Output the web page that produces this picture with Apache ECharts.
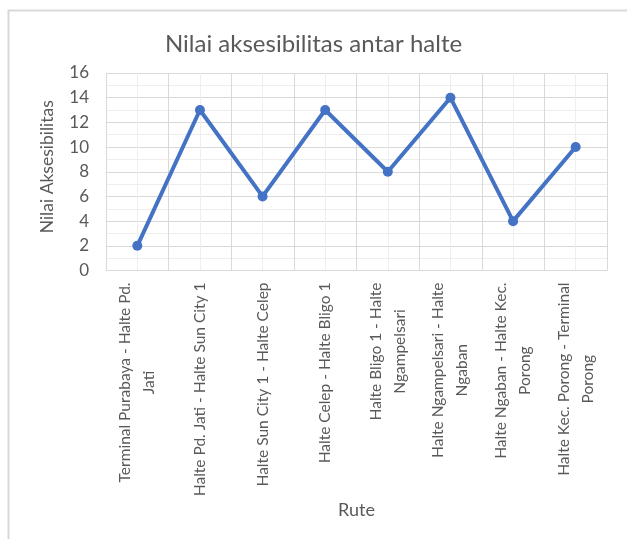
<!DOCTYPE html>
<html>
<head>
<meta charset="utf-8">
<script src="https://cdn.jsdelivr.net/npm/echarts@6/dist/echarts.min.js"></script>
<style>html,body{margin:0;padding:0;background:#fff}#c{width:627px;height:539px}</style>
</head>
<body>
<div id="c"></div>
<script>
const titleText = 'Nilai aksesibilitas antar halte';
const yAxisName = 'Nilai Aksesibilitas';
const xAxisName = 'Rute';
const categories = [
  'Terminal Purabaya - Halte Pd.\nJati',
  'Halte Pd. Jati - Halte Sun City 1',
  'Halte Sun City 1 - Halte Celep',
  'Halte Celep - Halte Bligo 1',
  'Halte Bligo 1 - Halte\nNgampelsari',
  'Halte Ngampelsari - Halte\nNgaban',
  'Halte Ngaban - Halte Kec.\nPorong',
  'Halte Kec. Porong - Terminal\nPorong'
];
const values = [2, 13, 6, 13, 8, 14, 4, 10];

const FONT = 'Lato';
const GRAY = '#595959';
const chart = echarts.init(document.getElementById('c'));
chart.setOption({
  animation: false,
  backgroundColor: '#fff',
  graphic: [{
    type: 'rect', left: 6, top: 8, z: -1,
    shape: { width: 700, height: 600 },
    style: { fill: 'none', stroke: '#d9d9d9', lineWidth: 2 }
  }],
  title: {
    text: titleText, left: 'center', top: 27,
    textStyle: { fontFamily: FONT, fontSize: 24, fontWeight: 'normal', color: GRAY }
  },
  grid: { left: 106, right: 20, top: 73, bottom: 268.5 },
  xAxis: [{
    type: 'category', data: categories, boundaryGap: true,
    name: xAxisName, nameLocation: 'middle', nameGap: 231,
    nameTextStyle: { fontFamily: FONT, fontSize: 18, color: GRAY },
    axisLine: { show: true, lineStyle: { color: '#d9d9d9', width: 1 } },
    axisTick: { show: false },
    splitLine: { show: false },
    axisLabel: {
      interval: 0, rotate: 90, margin: 12, color: GRAY,
      fontFamily: FONT, fontSize: 15.5,
      formatter: function (v) {
        return v.split('\n').map(function (s) { return '{c|' + s + '}'; }).join('\n');
      },
      rich: { c: { align: 'center', fontFamily: FONT, fontSize: 15.5, lineHeight: 24, color: GRAY } }
    }
  }, {
    type: 'value', min: 0, max: 8, interval: 1, position: 'bottom',
    axisLine: { show: false }, axisTick: { show: false }, axisLabel: { show: false },
    splitLine: { show: true, lineStyle: { color: '#d9d9d9', width: 1 } },
    minorTick: { show: false, splitNumber: 2 },
    minorSplitLine: { show: true, lineStyle: { color: '#eeeeee', width: 1 } }
  }],
  yAxis: {
    type: 'value', min: 0, max: 16, interval: 2,
    name: yAxisName, nameLocation: 'middle', nameGap: 50,
    nameTextStyle: { fontFamily: FONT, fontSize: 17.5, color: GRAY, padding: [0, 0, 0, 10] },
    axisLine: { show: false }, axisTick: { show: false },
    axisLabel: { fontFamily: FONT, fontSize: 17, color: GRAY, margin: 17 },
    splitLine: { show: true, lineStyle: { color: '#d9d9d9', width: 1 } },
    minorTick: { show: false, splitNumber: 2 },
    minorSplitLine: { show: true, lineStyle: { color: '#eeeeee', width: 1 } }
  },
  series: [{
    type: 'line', data: values, xAxisIndex: 0,
    symbol: 'circle', symbolSize: 10,
    lineStyle: { color: '#4472C4', width: 4 },
    itemStyle: { color: '#4472C4' }
  }]
});
</script>
</body>
</html>
